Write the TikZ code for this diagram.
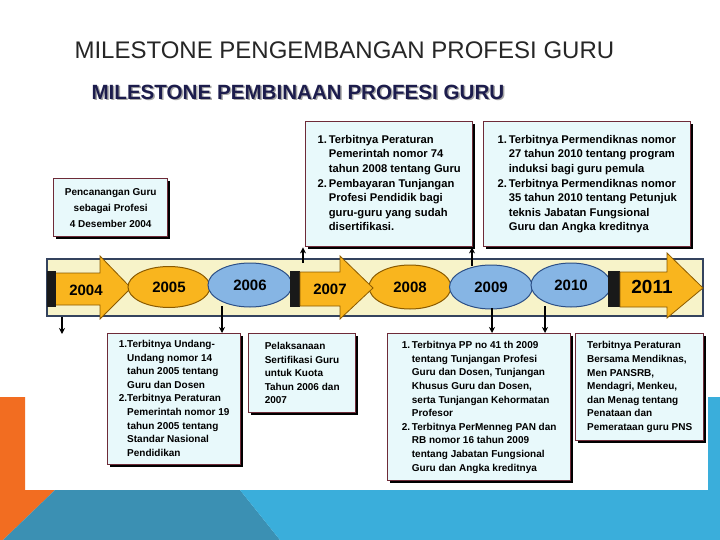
\documentclass[tikz,border=0pt]{standalone}
\usepackage{fontspec}
\setmainfont{Liberation Sans}
\usepackage{xcolor}
\usetikzlibrary{arrows.meta,shapes.geometric,shadows}

\definecolor{boxfill}{HTML}{E8F9FB}
\definecolor{boxedge}{HTML}{6E2B38}
\definecolor{bandfill}{HTML}{F7F3C9}
\definecolor{bandedge}{HTML}{34435E}
\definecolor{yorange}{HTML}{F9B51E}
\definecolor{yorangeedge}{HTML}{8A5A00}
\definecolor{yblue}{HTML}{86B5E4}
\definecolor{yblueedge}{HTML}{2C4F86}
\definecolor{bgorange}{HTML}{F26D21}
\definecolor{bgteal}{HTML}{3B90B3}
\definecolor{bgblue}{HTML}{3AAEDB}
\definecolor{headnavy}{HTML}{1C1C4C}

\newcommand\bxbig{\fontsize{11.2}{14.6}\selectfont\bfseries}
\newcommand\bxsmall{\fontsize{10}{13.6}\selectfont\bfseries}

\tikzset{
  infobox/.style={draw=boxedge, line width=1.4pt, fill=boxfill, anchor=north west,
    inner sep=0pt, align=left,
    drop shadow={shadow xshift=2.5pt, shadow yshift=-2.5pt, fill=black, opacity=1}},
  orangeoval/.style={ellipse, draw=yorangeedge, line width=1pt, fill=yorange,
    inner sep=0pt, font=\fontsize{15}{15}\selectfont\bfseries},
  blueoval/.style={ellipse, draw=yblueedge, line width=1pt, fill=yblue,
    inner sep=0pt, font=\fontsize{15}{15}\selectfont\bfseries},
  yeararrow/.style={draw=yorangeedge, line width=0.8pt, fill=yorange},
  darkbar/.style={fill=black!90},
  yearlabel/.style={font=\fontsize{15}{15}\selectfont\bfseries},
  conn/.style={-{Stealth[length=6pt,width=6pt]}, line width=1.6pt, black}
}

\begin{document}
\begin{tikzpicture}[x=1pt,y=-1pt]
\useasboundingbox (0,0) rectangle (720,540);
% background
\fill[white] (0,0) rectangle (720,540);
\fill[bgorange] (0,397) -- (25,397) -- (25,490) -- (55,490) -- (3,540) -- (0,540) -- cycle;
\fill[bgteal] (55,490) -- (240,490) -- (280,540) -- (3,540) -- cycle;
\fill[bgblue] (708,397) -- (720,397) -- (720,540) -- (280,540) -- (240,490) -- (708,490) -- cycle;

% titles
\node[anchor=west, font=\fontsize{24}{24}\selectfont, text=black!85] (title) at (71,50) {MILESTONE PENGEMBANGAN PROFESI GURU};
\node[anchor=west, font=\fontsize{20.6}{20.6}\selectfont\bfseries, text=black!35] (subshadow) at (89.5,93.5) {MILESTONE PEMBINAAN PROFESI GURU};
\node[anchor=west, font=\fontsize{20.6}{20.6}\selectfont\bfseries, text=headnavy] (subtitle) at (88,92) {MILESTONE PEMBINAAN PROFESI GURU};

% timeline band
\draw[bandedge, line width=1.6pt, fill=bandfill] (47,259) rectangle (703,316);

% 2004
\draw[yeararrow] (55,273) -- (100,273) -- (100,256) -- (131,288) -- (100,319) -- (100,305) -- (55,305) -- cycle;
\fill[darkbar] (47,271) rectangle (56,307);
\node[yearlabel] (y2004) at (86,290) {2004};
% 2005, 2006, 2008
\node[orangeoval, minimum width=82, minimum height=41] (y2005) at (169,287) {2005};
\node[blueoval, minimum width=84, minimum height=44] (y2006) at (250,285) {2006};
\node[orangeoval, minimum width=82, minimum height=44] (y2008) at (410,287) {2008};
% 2007
\fill[darkbar] (290,271) rectangle (300,307);
\draw[yeararrow] (300,272) -- (340,272) -- (340,256) -- (373,288) -- (340,319) -- (340,306) -- (300,306) -- cycle;
\node[yearlabel] (y2007) at (330,289) {2007};
% 2009, 2010
\node[blueoval, minimum width=83, minimum height=44] (y2009) at (491,287) {2009};
\node[blueoval, minimum width=80, minimum height=44] (y2010) at (571,285) {2010};
% 2011
\fill[darkbar] (608,271) rectangle (620,307);
\draw[yeararrow] (620,272) -- (667,272) -- (667,253) -- (703,288) -- (667,318) -- (667,307) -- (620,307) -- cycle;
\node[yearlabel, font=\fontsize{19}{19}\selectfont\bfseries] (y2011) at (652,287) {2011};

% upper boxes
\node[infobox, minimum width=114, minimum height=58, align=center, font=\fontsize{10}{16}\selectfont\bfseries] (b2004) at (53,178)
  {Pencanangan Guru\\sebagai Profesi\\4 Desember 2004};
\node[infobox, minimum width=167, minimum height=125, font=\bxbig] (b2007) at (305,121)
  {\begin{tabular}{@{}l@{\,}l@{}}
   1. & Terbitnya Peraturan\\
      & Pemerintah nomor 74\\
      & tahun 2008 tentang Guru\\
   2. & Pembayaran Tunjangan\\
      & Profesi Pendidik bagi\\
      & guru-guru yang sudah\\
      & disertifikasi.
   \end{tabular}};
\node[infobox, minimum width=207, minimum height=125, font=\bxbig] (b2010) at (483,121)
  {\begin{tabular}{@{}l@{\,}l@{}}
   1. & Terbitnya Permendiknas nomor\\
      & 27 tahun 2010 tentang program\\
      & induksi bagi guru pemula\\
   2. & Terbitnya Permendiknas nomor\\
      & 35 tahun 2010 tentang Petunjuk\\
      & teknis Jabatan Fungsional\\
      & Guru dan Angka kreditnya
   \end{tabular}};

% lower boxes
\node[infobox, minimum width=133, minimum height=131, font=\bxsmall] (b2005) at (107,333)
  {\begin{tabular}{@{}l@{}l@{}}
   1. & Terbitnya Undang-\\
      & Undang nomor 14\\
      & tahun 2005 tentang\\
      & Guru dan Dosen\\
   2. & Terbitnya Peraturan\\
      & Pemerintah nomor 19\\
      & tahun 2005 tentang\\
      & Standar Nasional\\
      & Pendidikan
   \end{tabular}};
\node[infobox, minimum width=107, minimum height=79, font=\bxsmall] (b2006) at (248,333)
  {Pelaksanaan\\Sertifikasi Guru\\untuk Kuota\\Tahun 2006 dan\\2007};
\node[infobox, minimum width=183, minimum height=147, font=\bxsmall] (b2009) at (387,333)
  {\begin{tabular}{@{}l@{\,}l@{}}
   1. & Terbitnya PP no 41 th 2009\\
      & tentang Tunjangan Profesi\\
      & Guru dan Dosen, Tunjangan\\
      & Khusus Guru dan Dosen,\\
      & serta Tunjangan Kehormatan\\
      & Profesor\\
   2. & Terbitnya PerMenneg PAN dan\\
      & RB nomor 16 tahun 2009\\
      & tentang Jabatan Fungsional\\
      & Guru dan Angka kreditnya
   \end{tabular}};
\node[infobox, minimum width=128, minimum height=107, font=\bxsmall] (b2010b) at (575,333)
  {Terbitnya Peraturan\\Bersama Mendiknas,\\Men PANSRB,\\Mendagri, Menkeu,\\dan Menag tentang\\Penataan dan\\Pemerataan guru PNS};

% connectors
\coordinate (d2004) at (62,317);
\coordinate (e2004) at (62,334);
\draw[conn] (d2004) -- (e2004);
\coordinate (d2005) at (222,306);
\draw[conn] (d2005) -- (d2005 |- b2005.north);
\coordinate (u2007) at (303,263);
\draw[conn] (u2007) -- (u2007 |- b2007.south);
\coordinate (u2008) at (472,266);
\draw[conn] (u2008) -- (u2008 |- b2007.south);
\coordinate (d2009) at (492,308);
\draw[conn] (d2009) -- (d2009 |- b2009.north);
\coordinate (d2010) at (545,306);
\draw[conn] (d2010) -- (d2010 |- b2009.north);
\end{tikzpicture}
\end{document}
